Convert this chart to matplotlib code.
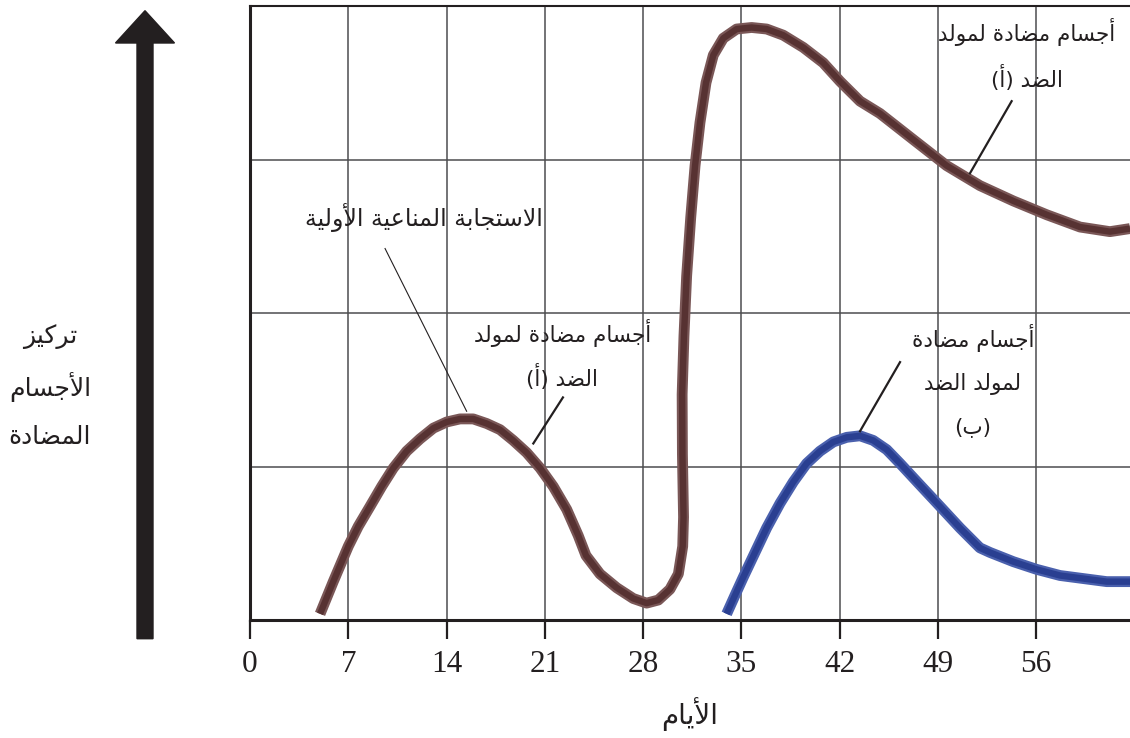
import matplotlib
matplotlib.use('Agg')
import matplotlib.pyplot as plt
from matplotlib.patches import FancyArrow

# antibodies against antigen A: primary response, then the fast secondary one
days_a = [4.99, 5.93, 7.00, 7.71, 8.55, 9.38, 10.21, 11.16, 12.11, 13.06,
          14.01, 14.96, 15.90, 16.86, 17.81, 18.75, 19.71, 20.66, 21.60, 22.56,
          23.38, 23.93, 24.93, 26.12, 27.30, 28.25, 29.08, 29.91, 30.51, 30.82,
          30.88, 30.80, 30.78, 30.91, 31.10, 31.39, 31.70, 32.05, 32.48, 33.00,
          33.71, 34.66, 35.73, 36.80, 37.98, 39.41, 40.83, 42.02, 43.45, 44.87,
          47.24, 49.62, 51.99, 54.37, 56.75, 59.12, 61.25, 62.68]
conc_a = [0.04, 0.25, 0.48, 0.61, 0.74, 0.87, 0.99, 1.10, 1.18, 1.25,
          1.29, 1.31, 1.31, 1.28, 1.24, 1.17, 1.09, 0.99, 0.87, 0.72,
          0.55, 0.42, 0.30, 0.21, 0.14, 0.11, 0.13, 0.20, 0.30, 0.48,
          0.67, 1.08, 1.47, 1.85, 2.24, 2.62, 2.96, 3.24, 3.50, 3.68,
          3.79, 3.85, 3.86, 3.85, 3.81, 3.73, 3.63, 3.51, 3.38, 3.30,
          3.13, 2.96, 2.83, 2.73, 2.64, 2.56, 2.53, 2.55]

# antibodies against antigen B: primary response only
days_b = [33.95, 34.54, 35.14, 35.97, 36.80, 37.75, 38.70, 39.65, 40.60, 41.55,
          42.50, 43.45, 44.39, 45.35, 46.30, 47.72, 49.15, 50.57, 51.99, 52.71,
          54.37, 56.03, 57.69, 59.35, 61.02, 62.68]
conc_b = [0.04, 0.16, 0.28, 0.44, 0.60, 0.76, 0.90, 1.02, 1.10, 1.16,
          1.19, 1.20, 1.17, 1.11, 1.02, 0.88, 0.74, 0.60, 0.47, 0.44,
          0.38, 0.33, 0.29, 0.27, 0.25, 0.25]

day_ticks = [0, 7, 14, 21, 28, 35, 42, 49, 56]
level_lines = [1, 2, 3]

lbl_primary = 'الاستجابة المناعية الأولية'
lbl_anti_a = ['أجسام مضادة لمولد', 'الضد (أ)']
lbl_anti_b = ['أجسام مضادة', 'لمولد الضد', '(ب)']
lbl_y = ['تركيز', 'الأجسام', 'المضادة']
lbl_x = 'الأيام'

# matplotlib has no arabic shaping, so pick the joined glyph forms by hand
DUAL = {'ب': 0xFE8F, 'ت': 0xFE95, 'ث': 0xFE99, 'ج': 0xFE9D, 'ح': 0xFEA1, 'خ': 0xFEA5,
        'س': 0xFEB1, 'ش': 0xFEB5, 'ص': 0xFEB9, 'ض': 0xFEBD, 'ط': 0xFEC1, 'ظ': 0xFEC5,
        'ع': 0xFEC9, 'غ': 0xFECD, 'ف': 0xFED1, 'ق': 0xFED5, 'ك': 0xFED9, 'ل': 0xFEDD,
        'م': 0xFEE1, 'ن': 0xFEE5, 'ه': 0xFEE9, 'ي': 0xFEF1, 'ئ': 0xFE89}
RIGHT = {'آ': 0xFE81, 'أ': 0xFE83, 'ؤ': 0xFE85, 'إ': 0xFE87, 'ا': 0xFE8D, 'ة': 0xFE93,
         'د': 0xFEA9, 'ذ': 0xFEAB, 'ر': 0xFEAD, 'ز': 0xFEAF, 'و': 0xFEED, 'ى': 0xFEEF}
LAM_ALEF = {'آ': 0xFEF5, 'أ': 0xFEF7, 'إ': 0xFEF9, 'ا': 0xFEFB}


def arabic(text):
    units = []
    i = 0
    while i < len(text):
        c = text[i]
        if c == 'ل' and i + 1 < len(text) and text[i + 1] in LAM_ALEF:
            units.append(('la', text[i + 1]))
            i += 2
        else:
            units.append(c)
            i += 1

    def fwd(u):
        return isinstance(u, str) and u in DUAL

    def joinable(u):
        return isinstance(u, tuple) or u in DUAL or u in RIGHT

    out = []
    for k, u in enumerate(units):
        prev = units[k - 1] if k > 0 else None
        nxt = units[k + 1] if k + 1 < len(units) else None
        p = prev is not None and fwd(prev) and joinable(u)
        n = fwd(u) and nxt is not None and joinable(nxt)
        if isinstance(u, tuple):
            out.append(chr(LAM_ALEF[u[1]] + (1 if p else 0)))
        elif u in DUAL:
            form = 3 if (p and n) else 1 if p else 2 if n else 0
            out.append(chr(DUAL[u] + form))
        elif u in RIGHT:
            out.append(chr(RIGHT[u] + (1 if p else 0)))
        else:
            out.append(u)
    vis = ''.join(reversed(out))
    return vis.translate(str.maketrans('()', ')('))


ink = '#231f20'
afont = ['DejaVu Sans']
asize = 15.5

fig = plt.figure(figsize=(11.3, 7.38), dpi=100)
ax = fig.add_axes([250 / 1130, 118 / 738, 880 / 1130, 614 / 738])
ax.set_xlim(0, 62.68)
ax.set_ylim(0, 4)

for d in day_ticks[1:]:
    ax.axvline(d, color='#4d4d4f', lw=1.1, zorder=1)
for lv in level_lines:
    ax.axhline(lv, color='#4d4d4f', lw=1.1, zorder=1)


def tube(x, y, edge, core):
    ax.plot(x, y, color=edge, lw=7.8, solid_capstyle='butt',
            solid_joinstyle='round', zorder=3)
    ax.plot(x, y, color=core, lw=4.6, solid_capstyle='butt',
            solid_joinstyle='round', zorder=4)


tube(days_a, conc_a, '#7a5757', '#573232')
tube(days_b, conc_b, '#4a60ad', '#2a3f91')

# labels and leader lines
ax.text(12.39, 2.62, arabic(lbl_primary), family=afont, fontsize=17,
        color=ink, ha='center', va='center')
ax.plot([9.62, 15.43], [2.42, 1.36], color=ink, lw=0.8, zorder=5)

for txt, yy in zip(lbl_anti_a, [1.87, 1.58]):
    ax.text(22.25, yy, arabic(txt), family=afont, fontsize=asize,
            color=ink, ha='center', va='center')
ax.plot([22.29, 20.18], [1.45, 1.15], color=ink, lw=1.6, zorder=5)

for txt, yy in zip(lbl_anti_a, [3.83, 3.53]):
    ax.text(55.34, yy, arabic(txt), family=afont, fontsize=asize,
            color=ink, ha='center', va='center')
ax.plot([54.25, 51.28], [3.38, 2.91], color=ink, lw=1.6, zorder=5)

for txt, yy in zip(lbl_anti_b, [1.84, 1.54, 1.26]):
    ax.text(51.50, yy, arabic(txt), family=afont, fontsize=asize,
            color=ink, ha='center', va='center')
ax.plot([46.30, 43.45], [1.68, 1.23], color=ink, lw=1.6, zorder=5)

# frame
ax.spines['right'].set_visible(False)
ax.spines['left'].set_linewidth(2.2)
ax.spines['bottom'].set_linewidth(2.2)
ax.spines['top'].set_linewidth(1.5)
for s in ax.spines.values():
    s.set_color(ink)

ax.set_xticks(day_ticks)
ax.set_xticklabels([str(d) for d in day_ticks], family='Liberation Serif',
                   fontsize=22.5, color=ink)
ax.set_yticks([])
ax.tick_params(axis='x', direction='out', length=13.5, width=1.6, color=ink, pad=8)

ax.set_xlabel(arabic(lbl_x), family=afont, fontsize=20, color=ink)
ax.xaxis.set_label_coords(0.5, -0.153)
ax.xaxis.label.set_va('center')

# y axis: a big arrow with the label beside it
fig.add_artist(FancyArrow(1.45, 0.993, 0, 6.28, width=0.16, head_width=0.59,
                          head_length=0.323, length_includes_head=True,
                          color=ink, transform=fig.dpi_scale_trans))
for txt, py in zip(lbl_y, [337, 387, 437]):
    fig.text(50 / 1130, 1 - py / 738, arabic(txt), family=afont, fontsize=18,
             color=ink, ha='center', va='center')

fig.savefig('out.png', dpi=100)
